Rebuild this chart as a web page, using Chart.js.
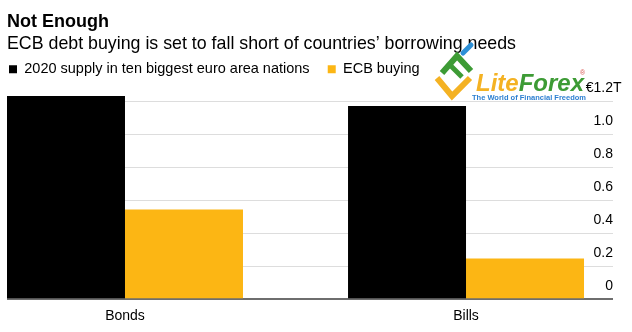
<!DOCTYPE html>
<html lang="en">

<head>
  <meta charset="UTF-8">
  <title>Not Enough</title>
  <script src="https://cdn.jsdelivr.net/npm/chart.js"></script>
  <style>
    body { margin: 0; background: #fff; }
    .wrap { position: relative; width: 632px; height: 332px; }
    .wrap canvas { position: absolute; left: 0; top: 0; }
    /* watermark sits over the chart, like in the source picture */
    .logo { position: absolute; left: 0; top: 0; pointer-events: none; }
  </style>
</head>

<body>
  <div class="wrap">
    <canvas id="chart" width="632" height="332"></canvas>
    <svg class="logo" width="632" height="332" viewBox="0 0 632 332">
      <polyline points="437,78 452,96 470,78" fill="none" stroke="#f4b223" stroke-width="6" stroke-linejoin="miter" />
      <polyline points="442,73 457,56 471,71" fill="none" stroke="#3d9b35" stroke-width="6" />
      <line x1="450" y1="65" x2="462" y2="77" stroke="#3d9b35" stroke-width="5" />
      <line x1="463" y1="53" x2="471" y2="45" stroke="#2c8fd6" stroke-width="5" stroke-linecap="round" />
      <text x="476" y="91" font-family="Liberation Sans, Arial, sans-serif" font-size="24" font-weight="bold" font-style="italic"><tspan fill="#f4b223">Lite</tspan><tspan fill="#3d9b35">Forex</tspan></text>
      <text x="580" y="75" font-family="Liberation Sans, Arial, sans-serif" font-size="7" fill="#d9534f">®</text>
      <text x="472" y="100" font-family="Liberation Sans, Arial, sans-serif" font-size="7.5" font-weight="bold" fill="#2c7fd1">The World of Financial Freedom</text>
    </svg>
  </div>

  <script>
    // values, trillions of euros
    const categories = ['Bonds', 'Bills'];
    const supply2020 = [1.233, 1.173];
    const ecbBuying = [0.545, 0.247];
    const yTicks = [0, 0.2, 0.4, 0.6, 0.8, 1.0, 1.2];

    const FONT = '"Liberation Sans", Arial, sans-serif';
    Chart.defaults.font.family = FONT;
    Chart.defaults.color = '#000';

    // draws the "T" that hangs after the top tick label (€1.2T)
    const unitSuffix = {
      id: 'unitSuffix',
      afterDraw(chart) {
        const y = chart.scales.y;
        const ctx = chart.ctx;
        ctx.save();
        ctx.font = '14px ' + FONT;
        ctx.fillStyle = '#000';
        ctx.textAlign = 'left';
        ctx.textBaseline = 'middle';
        ctx.fillText('T', y.left, y.getPixelForValue(yTicks[yTicks.length - 1]) - 13.5);
        ctx.restore();
      }
    };

    // some room between legend and plot
    const legendGap = {
      id: 'legendGap',
      beforeInit(chart) {
        const fit = chart.legend.fit;
        chart.legend.fit = function () {
          fit.bind(chart.legend)();
          this.height += 15;
        };
      }
    };

    new Chart(document.getElementById('chart'), {
      type: 'bar',
      data: {
        datasets: [{
          label: '2020 supply in ten biggest euro area nations    ',
          data: supply2020.map((v, i) => ({ x: i, y: v })),
          backgroundColor: '#000000',
          clip: false
        }, {
          label: 'ECB buying',
          data: ecbBuying.map((v, i) => ({ x: i, y: v })),
          backgroundColor: '#fcb614',
          clip: false
        }]
      },
      options: {
        responsive: false,
        animation: false,
        layout: { padding: { left: 7, right: 19, top: 0, bottom: 6 } },
        datasets: { bar: { categoryPercentage: 0.692, barPercentage: 1 } },
        plugins: {
          title: {
            display: true,
            text: 'Not Enough',
            align: 'start',
            color: '#000',
            font: { size: 18, weight: 'bold' },
            padding: { top: 11, bottom: 0 }
          },
          subtitle: {
            display: true,
            text: 'ECB debt buying is set to fall short of countries\u2019 borrowing needs',
            align: 'start',
            color: '#000',
            font: { size: 17.8 },
            padding: { top: 1, bottom: 5 }
          },
          legend: {
            position: 'top',
            align: 'start',
            labels: { boxWidth: 8, boxHeight: 8, padding: 2, color: '#000', font: { size: 14.5 } }
          },
          tooltip: { enabled: false }
        },
        scales: {
          x: {
            type: 'linear',
            offset: false,
            min: -0.346,
            max: 1.431,
            afterBuildTicks: (scale) => { scale.ticks = categories.map((c, i) => ({ value: i })); },
            ticks: {
              padding: 1,
              font: { size: 14 },
              color: '#000',
              callback: (v) => categories[v]
            },
            grid: { display: false },
            border: { display: false }
          },
          y: {
            position: 'right',
            min: 0,
            max: 1.2,
            afterBuildTicks: (scale) => { scale.ticks = yTicks.map(v => ({ value: v })); },
            ticks: {
              mirror: true,
              padding: 0,
              labelOffset: -13.5,
              font: { size: 14 },
              color: '#000',
              callback: (v) => v === 0 ? '0' : (v === 1.2 ? '\u20ac1.2' : v.toFixed(1))
            },
            grid: {
              drawTicks: false,
              color: (ctx) => ctx.tick && ctx.tick.value === 0 ? '#6e6e6e' : '#dddddd',
              lineWidth: (ctx) => ctx.tick && ctx.tick.value === 0 ? 2 : 1
            },
            border: { display: false }
          }
        }
      },
      plugins: [unitSuffix, legendGap]
    });
  </script>
</body>

</html>
